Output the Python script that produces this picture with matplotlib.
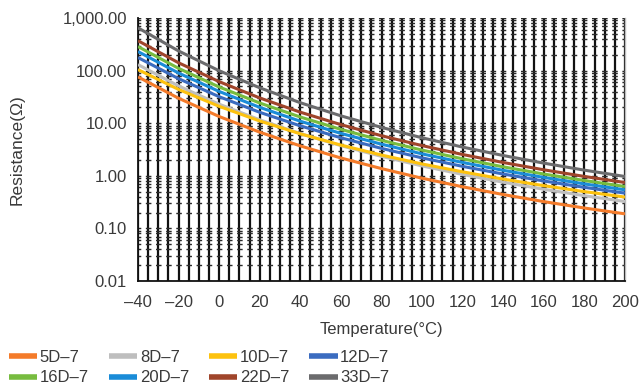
import numpy as np
import matplotlib
matplotlib.use("Agg")
import matplotlib.pyplot as plt
from matplotlib.lines import Line2D
from matplotlib.ticker import MultipleLocator, LogLocator, NullFormatter

plt.rcParams["font.family"] = ["Liberation Sans", "DejaVu Sans"]
plt.rcParams["lines.scale_dashes"] = False

# Temperature points (°C)
temperature = [-40, -20, 0, 20, 40, 60, 80, 100, 120, 140, 160, 180, 200]

# Resistance (Ω) of each thermistor type at the temperatures above
r_5d7 = [75.9, 29.8, 13.4, 6.75, 3.70, 2.18, 1.37, 0.899, 0.618, 0.440, 0.323, 0.244, 0.189]
r_8d7 = [130.0, 51.1, 23.0, 11.6, 6.35, 3.74, 2.34, 1.54, 1.06, 0.754, 0.554, 0.418, 0.324]
r_10d7 = [104.5, 43.8, 20.9, 11.0, 6.28, 3.84, 2.48, 1.68, 1.19, 0.865, 0.649, 0.500, 0.394]
r_12d7 = [177.0, 70.2, 31.9, 16.1, 8.90, 5.28, 3.32, 2.19, 1.51, 1.08, 0.797, 0.603, 0.468]
r_16d7 = [286.4, 110.3, 48.8, 24.2, 13.1, 7.63, 4.72, 3.08, 2.10, 1.48, 1.08, 0.813, 0.625]
r_20d7 = [230.1, 89.7, 40.1, 20.0, 10.9, 6.40, 3.99, 2.61, 1.79, 1.27, 0.931, 0.701, 0.541]
r_22d7 = [369.8, 140.7, 61.6, 30.2, 16.2, 9.39, 5.78, 3.75, 2.54, 1.79, 1.30, 0.972, 0.745]
r_33d7 = [650.1, 236.0, 99.3, 47.1, 24.5, 13.8, 8.32, 5.28, 3.51, 2.43, 1.74, 1.28, 0.97]

series_names = ["5D\u20137", "8D\u20137", "10D\u20137", "12D\u20137",
                "16D\u20137", "20D\u20137", "22D\u20137", "33D\u20137"]
series_values = [r_5d7, r_8d7, r_10d7, r_12d7, r_16d7, r_20d7, r_22d7, r_33d7]
series_colors = ["#F47B2A", "#BEBEBE", "#FDC20F", "#3B6CC0",
                 "#77BC3F", "#1A8CD8", "#A0452B", "#6B6B6D"]

x_ticks = [-40, -20, 0, 20, 40, 60, 80, 100, 120, 140, 160, 180, 200]
x_tick_labels = ["\u201340", "\u201320", "0", "20", "40", "60", "80",
                 "100", "120", "140", "160", "180", "200"]
y_ticks = [0.01, 0.1, 1, 10, 100, 1000]
y_tick_labels = ["0.01", "0.10", "1.00", "10.00", "100.00", "1,000.00"]

text_color = "#3a3a3a"

fig = plt.figure(figsize=(6.4, 3.87), dpi=100)
ax = fig.add_axes([138 / 640, 1 - 281 / 387, 487 / 640, 263 / 387])

for name, vals, col in zip(series_names, series_values, series_colors):
    ax.plot(temperature, vals, color=col, lw=2.2, solid_capstyle="butt",
            solid_joinstyle="round", label=name, zorder=3)

ax.set_yscale("log")
ax.set_xlim(-40, 200)
ax.set_ylim(0.01, 1000)

ax.set_xticks(x_ticks)
ax.set_xticklabels(x_tick_labels)
ax.xaxis.set_minor_locator(MultipleLocator(5))
ax.set_yticks(y_ticks)
ax.set_yticklabels(y_tick_labels)
ax.yaxis.set_minor_locator(LogLocator(base=10, subs=np.arange(2, 10)))
ax.yaxis.set_minor_formatter(NullFormatter())

ax.tick_params(which="both", length=0)
ax.tick_params(axis="x", pad=10, labelsize=12, labelcolor=text_color)
ax.tick_params(axis="y", pad=8, labelsize=12, labelcolor=text_color)

ax.set_axisbelow(True)
ax.grid(True, which="both", axis="x", color="#111111", lw=1.6)
ax.grid(True, which="both", axis="y", color="#2a2a2a", lw=1.0,
        linestyle=(2.0, (4.0, 3.3)))

for side in ("left", "bottom"):
    ax.spines[side].set_color("#111111")
    ax.spines[side].set_linewidth(1.3)
ax.spines["top"].set_visible(False)
ax.spines["right"].set_color("#bbbbbb")
ax.spines["right"].set_linewidth(1.0)

ax.set_xlabel("Temperature(\u00b0C)", fontsize=12, color=text_color, labelpad=9)
ax.set_ylabel("Resistance(\u03a9)", fontsize=12.5, color=text_color)
ax.yaxis.set_label_coords(-0.232, 0.5)

# legend filled row by row: 4 entries per row
ncol = 4
nrow = 2
order = [r * ncol + c for c in range(ncol) for r in range(nrow)]
handles = [Line2D([0], [0], color=series_colors[i], lw=4.0, solid_capstyle="butt")
           for i in order]
labels = [series_names[i] for i in order]
fig.legend(handles, labels, ncol=ncol, loc="upper left",
           bbox_to_anchor=(9 / 640, 1 - 350 / 387), frameon=False,
           fontsize=12, labelcolor=text_color, handlelength=1.7,
           handletextpad=0.15, columnspacing=1.2, labelspacing=0.32,
           borderpad=0, borderaxespad=0)

fig.savefig("out.png", dpi=100)
